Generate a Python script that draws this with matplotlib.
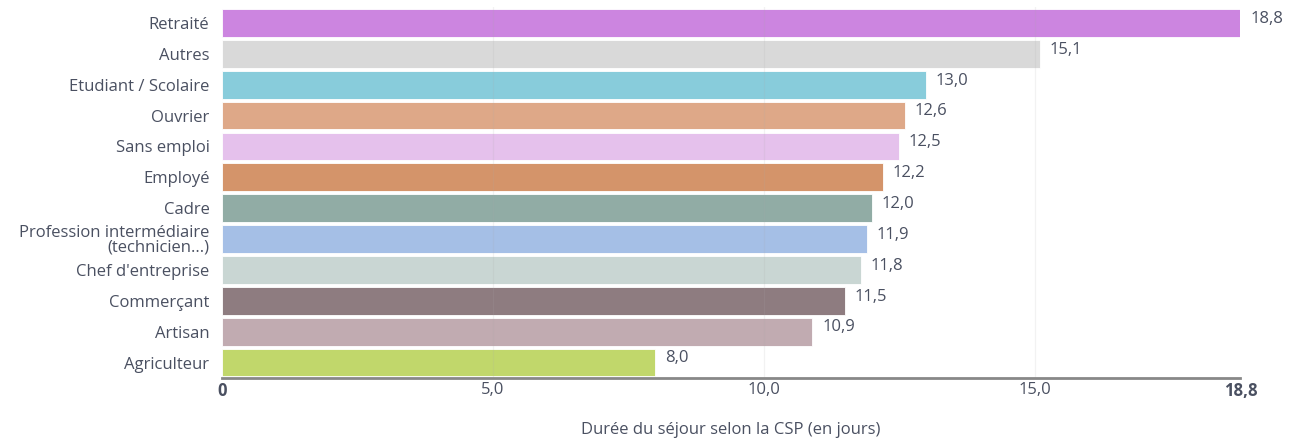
import matplotlib
matplotlib.use("Agg")
import matplotlib.pyplot as plt

categories = ["Retraité", "Autres", "Etudiant / Scolaire", "Ouvrier", "Sans emploi",
              "Employé", "Cadre", "Profession intermédiaire\n(technicien...)",
              "Chef d'entreprise", "Commerçant", "Artisan", "Agriculteur"]
values = [18.8, 15.1, 13.0, 12.6, 12.5, 12.2, 12.0, 11.9, 11.8, 11.5, 10.9, 8.0]
colors = ["#cc85e0", "#d9d9d9", "#88ccdb", "#dea888", "#e5c1ec", "#d4946a",
          "#91aca5", "#a5bfe6", "#c9d6d3", "#8e7c80", "#c1abb1", "#c1d76b"]
xticks = [0, 5, 10, 15, 18.8]
xticklabels = ["0", "5,0", "10,0", "15,0", "18,8"]

plt.rcParams["font.family"] = ["Open Sans", "DejaVu Sans"]
txt = "#4a5061"

fig = plt.figure(figsize=(13.08, 4.41), dpi=100)
ax = fig.add_axes([0.1697, 0.143, 0.7786, 0.84])

pos = list(range(len(categories)))[::-1]
ax.barh(pos, values, height=0.9, color=colors, edgecolor="white", linewidth=0.6, zorder=2)
for y, v in zip(pos, values):
    ax.annotate(f"{v:.1f}".replace(".", ","), (v, y), xytext=(7, 3),
                textcoords="offset points", va="center", ha="left",
                fontsize=12, color=txt)

ax.set_xlim(0, 18.8)
ax.set_ylim(-0.5, len(categories) - 0.5)
ax.set_yticks(pos)
ax.set_yticklabels(categories, fontsize=12, color=txt, linespacing=0.9)
ax.set_xticks(xticks)
ax.set_xticklabels(xticklabels, fontsize=12, color=txt)
for lab in (ax.get_xticklabels()[0], ax.get_xticklabels()[-1]):
    lab.set_fontweight("bold")
ax.tick_params(axis="both", length=0, pad=3)
ax.tick_params(axis="y", pad=9)
for x in xticks[1:4]:
    ax.axvline(x, color="#aaaaaa", alpha=0.15, linewidth=0.9, zorder=3)

for s in ("top", "right", "left"):
    ax.spines[s].set_visible(False)
ax.spines["bottom"].set_color("#888888")
ax.spines["bottom"].set_linewidth(2)
ax.spines["bottom"].set_zorder(4)

ax.set_xlabel("Durée du séjour selon la CSP (en jours)", fontsize=12, color=txt, labelpad=16)

fig.savefig("out.png", dpi=100)
